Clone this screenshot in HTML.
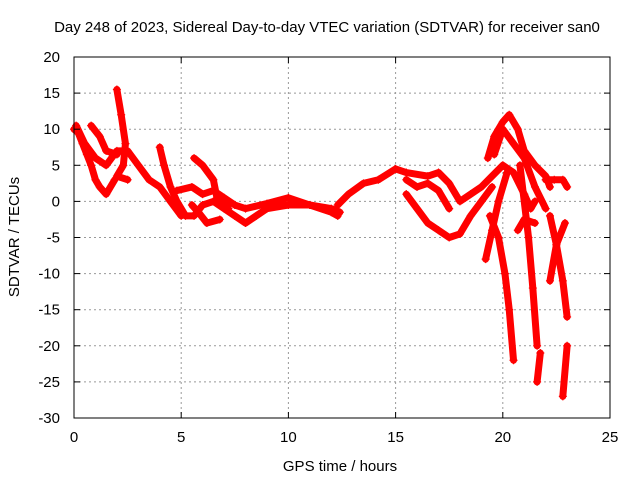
<!DOCTYPE html>
<html><head><meta charset="utf-8"><style>
body{margin:0;background:#fff}
svg text{font-family:"Liberation Sans",sans-serif;font-size:15px;fill:#000}
</style></head><body>
<svg id="c" width="640" height="480">
<rect width="640" height="480" fill="#fff"/>
<g id="grid"></g><g id="marks"></g><g id="axes"></g>
<text x="327" y="32" text-anchor="middle">Day 248 of 2023, Sidereal Day-to-day VTEC variation (SDTVAR) for receiver san0</text>
<text x="340" y="471" text-anchor="middle">GPS time / hours</text>
<text x="19" y="237" text-anchor="middle" transform="rotate(-90 19 237)">SDTVAR / TECUs</text>
</svg>
<script>
const xTicks=[0,5,10,15,20,25];
const yTicks=[20,15,10,5,0,-5,-10,-15,-20,-25,-30];
const track1=[[0,10],[0.2,9.5],[0.4,8],[0.6,6.5],[0.8,5],[1,3],[1.2,2],[1.5,1],[1.9,3]];
const track2=[[0.1,10.5],[0.5,8],[1.0,6],[1.5,5],[2.0,7],[2.5,7],[3,5],[3.5,3],[4.0,2],[4.5,0],[5,-2]];
const track3=[[0.8,10.5],[1.2,9],[1.5,7],[2,6.5]];
const track4=[[2.0,15.5],[2.2,12],[2.4,8],[2.3,5],[2.0,3.5],[2.5,3]];
const track5=[[4,7.5],[4.2,5],[4.5,2],[4.8,0],[5.2,-2],[5.6,-2],[6,-0.5],[6.5,0],[7,-1],[7.5,-2],[8,-3],[8.5,-2],[9,-1],[10,-0.5],[11,-0.5],[12,-1.5],[12.3,-2]];
const track6=[[5.6,6],[6,5],[6.5,3],[6.7,0],[7.2,-1]];
const track7=[[4.8,1.5],[5.5,2],[6,1],[6.5,1.5],[7,0.5],[7.5,-0.5],[8,-1],[9,-0.3],[10,0.5],[11,-0.5],[12,-1],[12.4,-1.5]];
const track8=[[5.5,-0.5],[5.8,-1.5],[6.2,-3],[6.8,-2.5]];
const track9=[[12.3,-0.5],[12.8,1],[13.5,2.5],[14.2,3],[15,4.5],[15.5,4],[16.5,3.5],[17,4],[17.5,2.5],[18,0],[18.5,1],[19,2],[19.5,3.5],[20,5],[20.5,4],[21,1],[21.3,-1],[21.5,0]];
const track10=[[15.5,1],[16,-1],[16.5,-3],[17,-4],[17.5,-5],[18,-4.5],[18.5,-2],[19,0],[19.5,2]];
const track11=[[15.5,3],[16,2],[16.5,2.5],[17,1.5],[17.5,-1]];
const track12=[[19.3,6],[19.6,9],[20,11],[20.3,12],[20.7,10],[21,7],[21.5,5],[22,3.5],[22.2,2]];
const track13=[[19.6,6.5],[20,10],[20.5,8],[21,6],[21.5,2],[22,-1]];
const track14=[[19.4,-2],[19.8,-5],[20.1,-10],[20.3,-15],[20.5,-22]];
const track15=[[19.2,-8],[19.5,-4],[19.8,0],[20.2,4]];
const track16=[[20.8,5],[21.2,-5],[21.4,-12],[21.6,-20]];
const track17=[[21.75,-21],[21.6,-25]];
const track18=[[22.2,-11],[22.5,-6],[22.9,-3]];
const track19=[[22.2,-2],[22.5,-6],[22.8,-11],[23,-16]];
const track20=[[23,-20],[22.8,-27]];
const track21=[[20.7,-4],[21,-2.5],[21.5,-3]];
const track22=[[22,3],[22.4,3],[22.8,3],[23,2]];
const tracks=[track1,track2,track3,track4,track5,track6,track7,track8,track9,track10,track11,track12,track13,track14,track15,track16,track17,track18,track19,track20,track21,track22];
const L=74,R=610,T=57,B=418;
function sx(v){return L+(v-0)/25*(R-L);}
function sy(v){return B-(v+30)/50*(B-T);}
const NS='http://www.w3.org/2000/svg';
const grid=document.getElementById('grid'),axes=document.getElementById('axes'),marks=document.getElementById('marks');
function mk(tag,attrs,parent){const e=document.createElementNS(NS,tag);for(const k in attrs)e.setAttribute(k,attrs[k]);parent.appendChild(e);return e;}
xTicks.forEach(t=>{
 if(t>0&&t<25){const g=mk('line',{x1:sx(t),x2:sx(t),y1:T,y2:B,stroke:'#999','stroke-dasharray':'2,3'},grid);
 
 }
 mk('line',{x1:sx(t),x2:sx(t),y1:B,y2:B-6,stroke:'#000'},axes);
 mk('line',{x1:sx(t),x2:sx(t),y1:T,y2:T+6,stroke:'#000'},axes);
 const tx=mk('text',{x:sx(t),y:B+24,'text-anchor':'middle'},axes);tx.textContent=t;
 
 
});
yTicks.forEach(t=>{
 if(t>-30&&t<20){const g=mk('line',{x1:L,x2:R,y1:sy(t),y2:sy(t),stroke:'#999','stroke-dasharray':'2,3'},grid);
 
 }
 mk('line',{x1:L,x2:L+6,y1:sy(t),y2:sy(t),stroke:'#000'},axes);
 mk('line',{x1:R,x2:R-6,y1:sy(t),y2:sy(t),stroke:'#000'},axes);
 const tx=mk('text',{x:L-14,y:sy(t)+5,'text-anchor':'end'},axes);tx.textContent=t;
 
 
});
const fr=mk('rect',{x:L,y:T,width:R-L,height:B-T,fill:'none',stroke:'#000'},axes);


tracks.forEach((tr,i)=>{
 const p=mk('polyline',{points:tr.map(d=>sx(d[0])+','+sy(d[1])).join(' '),fill:'none',stroke:'#f00','stroke-width':7,'stroke-linejoin':'round','stroke-linecap':'round'},marks);
 
 
 tr.forEach(d=>{
  const m=mk('path',{d:`M${sx(d[0])-4},${sy(d[1])}h8M${sx(d[0])},${sy(d[1])-4}v8`,stroke:'#f00','stroke-width':1.2},marks);
  
  
 });
});
</script>
</body></html>
